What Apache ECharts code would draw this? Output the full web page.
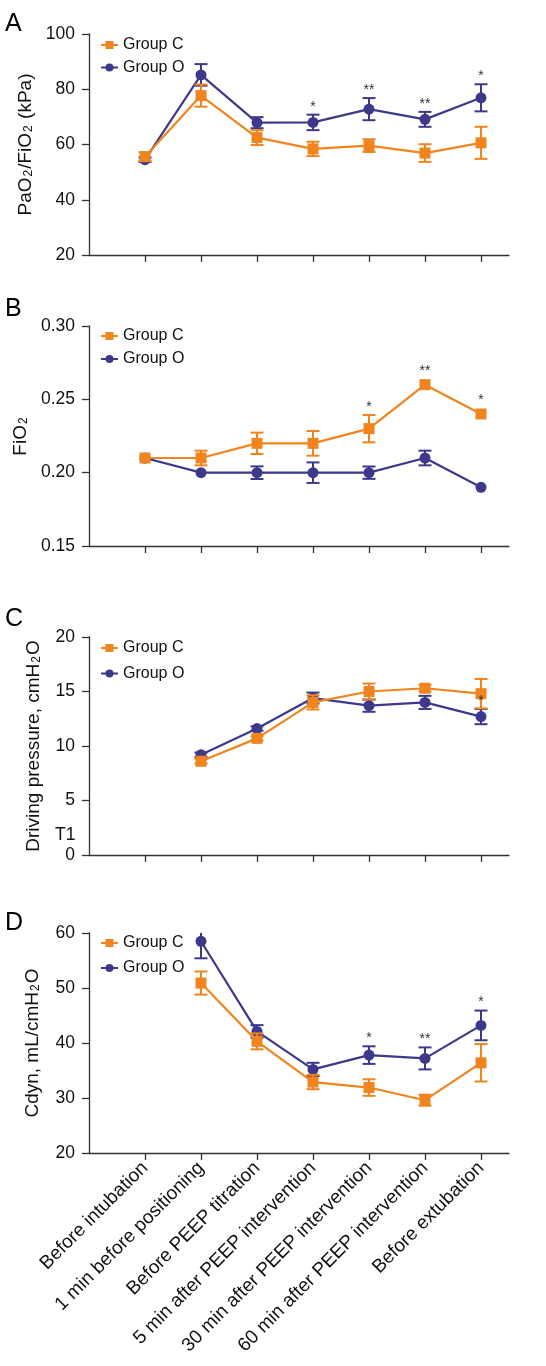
<!DOCTYPE html>
<html>
<head>
<meta charset="utf-8">
<script src="https://cdn.jsdelivr.net/npm/echarts@6/dist/echarts.min.js"></script>
<style>
html,body{margin:0;padding:0;background:#fff;}
#chart{width:546px;height:1366px;}
</style>
</head>
<body>
<div id="chart"></div>
<script>
// ---- data ----
const categories = ['Before intubation','1 min before positioning','Before PEEP titration','5 min after PEEP intervention','30 min after PEEP intervention','60 min after PEEP intervention','Before extubation'];
const seriesNames = ['Group C', 'Group O'];

// Panel A: PaO2/FiO2 (kPa)
const aTicks = [20, 40, 60, 80, 100];
const aCMean = [55.6, 77.7, 62.5, 58.4, 59.6, 56.9, 60.6];
const aCErr  = [1.6, 4.0, 2.7, 2.6, 2.3, 3.2, 5.8];
const aOMean = [54.5, 85.2, 67.9, 68.0, 72.8, 69.1, 76.9];
const aOErr  = [0.8, 3.9, 2.0, 2.8, 4.0, 2.7, 4.9];
const aStars = ['', '', '', '*', '**', '**', '*'];

// Panel B: FiO2
const bTicks = [0.15, 0.20, 0.25, 0.30];
const bCMean = [0.21, 0.21, 0.22, 0.22, 0.23, 0.26, 0.24];
const bCErr  = [0, 0.005, 0.0073, 0.0084, 0.0093, 0, 0];
const bOMean = [0.21, 0.20, 0.20, 0.20, 0.20, 0.21, 0.19];
const bOErr  = [0, 0, 0.0043, 0.007, 0.0042, 0.005, 0];
const bStars = ['', '', '', '', '*', '**', '*'];

// Panel C: Driving pressure, cmH2O
const cTicks = [0, 5, 10, 15, 20];
const cCMean = [null, 8.6, 10.7, 14.0, 15.0, 15.3, 14.8];
const cCErr  = [null, 0.2, 0.2, 0.65, 0.73, 0.3, 1.35];
const cOMean = [null, 9.2, 11.6, 14.4, 13.7, 14.0, 12.7];
const cOErr  = [null, 0.2, 0.2, 0.5, 0.56, 0.6, 0.7];
const cStars = ['', '', '', '', '', '', '*'];

// Panel D: Cdyn, mL/cmH2O
const dTicks = [20, 30, 40, 50, 60];
const dCMean = [null, 50.9, 40.3, 32.9, 31.9, 29.6, 36.4];
const dCErr  = [null, 2.1, 1.45, 1.3, 1.5, 1.0, 3.4];
const dOMean = [null, 58.5, 42.1, 35.2, 37.8, 37.2, 43.2];
const dOErr  = [null, 3.1, 1.15, 1.2, 1.6, 2.0, 2.7];
const dStars = ['', '', '', '', '*', '**', '*'];

// ---- styles ----
const ORANGE = '#F0841E';
const PURPLE = '#3D398A';
const AXIS = '#333333';
const FONT = '"Liberation Sans", Arial, Helvetica, sans-serif';

const panels = [
  {letter:'A', top:34, height:221, ticks:aTicks, c:[aCMean,aCErr], o:[aOMean,aOErr], stars:aStars, starOn:'o',
   name:'{a|PaO}{s|2}{a|/FiO}{s|2}{a| (kPa)}', nameGap:53, fmt:v=>String(v), letterY:26, legendTop:37, legendGap:6.5},
  {letter:'B', top:326, height:220, ticks:bTicks, c:[bCMean,bCErr], o:[bOMean,bOErr], stars:bStars, starOn:'c',
   name:'{a|FiO}{s|2}', nameGap:57, fmt:v=>v.toFixed(2), letterY:311, legendTop:328, legendGap:7},
  {letter:'C', top:637, height:218, ticks:cTicks, c:[cCMean,cCErr], o:[cOMean,cOErr], stars:cStars, starOn:'o',
   name:'{a|Driving pressure, cmH}{s|2}{a|O}', nameGap:46, fmt:v=>String(v), letterY:621, legendTop:640, legendGap:9.5},
  {letter:'D', top:933, height:220, ticks:dTicks, c:[dCMean,dCErr], o:[dOMean,dOErr], stars:dStars, starOn:'o',
   name:'{a|Cdyn, mL/cmH}{s|2}{a|O}', nameGap:47, fmt:v=>String(v), letterY:925, legendTop:935, legendGap:9}
];

const catPos = categories.map((_, i) => i + 1);

const grids = [], xAxes = [], yAxes = [], series = [], legends = [], graphics = [];

function errRender(color) {
  return function (params, api) {
    const x = api.value(0), y = api.value(1), e = api.value(2);
    if (!e) return null;
    const hi = api.coord([x, y + e]), lo = api.coord([x, y - e]);
    const w = 6.5;
    const st = {stroke: color, lineWidth: 2};
    return {type: 'group', children: [
      {type: 'line', shape: {x1: hi[0], y1: hi[1], x2: lo[0], y2: lo[1]}, style: st},
      {type: 'line', shape: {x1: hi[0] - w, y1: hi[1], x2: hi[0] + w, y2: hi[1]}, style: st},
      {type: 'line', shape: {x1: lo[0] - w, y1: lo[1], x2: lo[0] + w, y2: lo[1]}, style: st}
    ]};
  };
}

panels.forEach((p, gi) => {
  const isLast = gi === panels.length - 1;
  grids.push({left: 89, top: p.top, width: 420, height: p.height});
  xAxes.push({
    type: 'value', gridIndex: gi, min: 0, max: 7.5, interval: 1,
    axisLine: {show: true, lineStyle: {color: AXIS, width: 1.3}},
    axisTick: {show: true, length: 7, customValues: catPos, lineStyle: {color: AXIS, width: 1.3}},
    splitLine: {show: false},
    axisLabel: {
      show: isLast, customValues: catPos, rotate: 45, margin: 12,
      fontSize: 19, color: '#111', fontFamily: FONT,
      formatter: v => categories[Math.round(v) - 1] || ''
    }
  });
  const t = p.ticks;
  yAxes.push({
    type: 'value', gridIndex: gi, min: t[0], max: t[t.length - 1], interval: t[1] - t[0],
    axisLine: {show: true, lineStyle: {color: AXIS, width: 1.3}},
    axisTick: {show: true, length: 7, lineStyle: {color: AXIS, width: 1.3}},
    splitLine: {show: false},
    axisLabel: {fontSize: 17.5, color: '#111', margin: 14, fontFamily: FONT, formatter: p.fmt},
    name: p.name, nameLocation: 'middle', nameGap: p.nameGap, nameRotate: 90,
    nameTextStyle: {
      fontFamily: FONT, color: '#111',
      rich: {
        a: {fontSize: 19, fontFamily: FONT, color: '#111', lineHeight: 24, verticalAlign: 'bottom'},
        s: {fontSize: 12, fontFamily: FONT, color: '#111', lineHeight: 12, verticalAlign: 'bottom', padding: [0, 1, 0, 1]}
      }
    }
  });

  const groups = [
    {key: 'o', name: seriesNames[1], color: PURPLE, symbol: 'circle', mean: p.o[0], err: p.o[1], z: 2},
    {key: 'c', name: seriesNames[0], color: ORANGE, symbol: 'rect', mean: p.c[0], err: p.c[1], z: 3}
  ];
  groups.forEach(g => {
    const pts = [];
    g.mean.forEach((v, i) => { if (v !== null) pts.push([catPos[i], v, g.err[i] || 0]); });
    series.push({
      type: 'custom', xAxisIndex: gi, yAxisIndex: gi, clip: true, z: g.z,
      renderItem: errRender(g.color), encode: {x: 0, y: 1}, data: pts, silent: true
    });
    series.push({
      type: 'line', name: g.name, xAxisIndex: gi, yAxisIndex: gi, z: g.z + 0.5,
      symbol: g.symbol, symbolSize: 11,
      lineStyle: {color: g.color, width: 2.2}, itemStyle: {color: g.color},
      data: pts.map(d => [d[0], d[1]])
    });
  });

  // significance stars above chosen series
  const ref = p.starOn === 'o' ? p.o : p.c;
  const starPts = [];
  p.stars.forEach((s, i) => { if (s) starPts.push([catPos[i], ref[0][i], ref[1][i] || 0, i]); });
  series.push({
    type: 'custom', xAxisIndex: gi, yAxisIndex: gi, z: 5, silent: true,
    encode: {x: 0, y: 1}, data: starPts,
    renderItem: (params, api) => {
      const x = api.value(0), y = api.value(1), e = api.value(2), idx = api.value(3);
      const topE = api.coord([x, y + e])[1];
      const topM = api.coord([x, y])[1] - 6;
      const yy = Math.min(topE, topM) - 1;
      const cx = api.coord([x, y])[0];
      return {type: 'text', style: {x: cx, y: yy, text: p.stars[idx], fontSize: 14, fontFamily: FONT,
        fill: '#333', align: 'center', verticalAlign: 'bottom'}};
    }
  });

  legends.push({
    data: seriesNames, left: 100, top: p.legendTop, orient: 'vertical', padding: 0,
    itemWidth: 17, itemHeight: 10, itemGap: p.legendGap,
    textStyle: {fontSize: 16, color: '#111', fontFamily: FONT}
  });

  graphics.push({type: 'text', left: 5, top: p.letterY - 14,
    style: {text: p.letter, fontSize: 25, fontFamily: FONT, fill: '#000'}});
});

// stray "T1" label in panel C
graphics.push({type: 'text', left: 55, top: 826,
  style: {text: 'T1', fontSize: 17.5, fontFamily: FONT, fill: '#111'}});

const chart = echarts.init(document.getElementById('chart'), null, {renderer: 'canvas'});
chart.setOption({
  animation: false,
  backgroundColor: '#fff',
  grid: grids, xAxis: xAxes, yAxis: yAxes, series: series, legend: legends, graphic: graphics
});
</script>
</body>
</html>
